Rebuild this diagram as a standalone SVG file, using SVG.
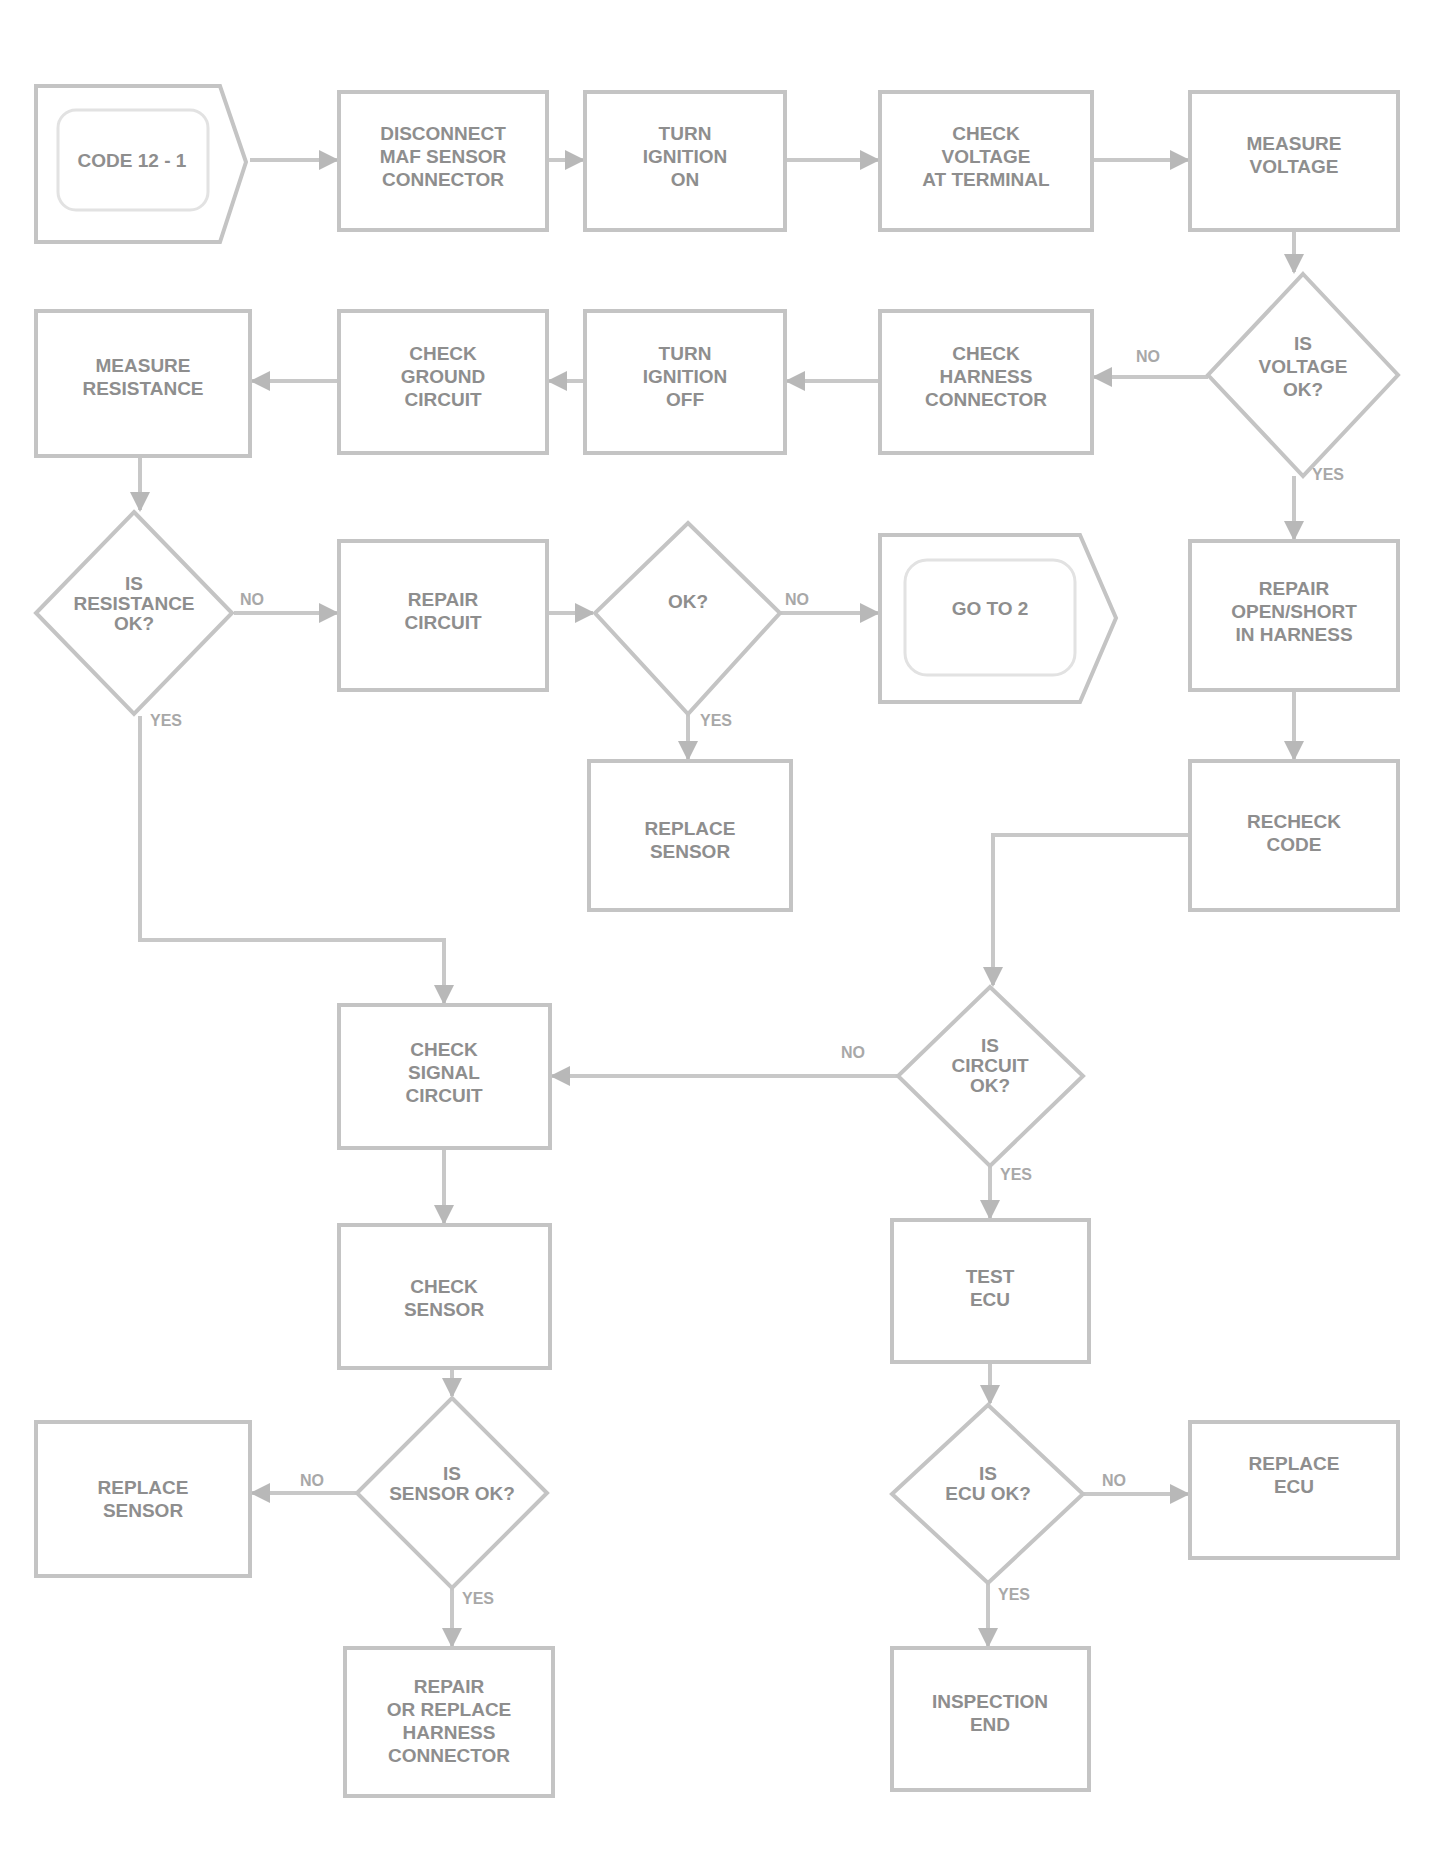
<svg xmlns="http://www.w3.org/2000/svg" width="1437" height="1866" viewBox="0 0 1437 1866">
<defs>
<marker id="ah" viewBox="0 0 10 10" refX="9" refY="5" markerWidth="5" markerHeight="5" orient="auto"><path d="M0,0 L10,5 L0,10 z" fill="#b8b8b8"/></marker>
</defs>
<style>
.box{fill:#fff;stroke:#c4c4c4;stroke-width:4}
.inner{fill:none;stroke:#e2e2e2;stroke-width:3}
.t{font-family:"Liberation Sans",Arial,sans-serif;font-weight:bold;font-size:19px;fill:#8e8e8e;text-anchor:middle}
.lbl{font-family:"Liberation Sans",Arial,sans-serif;font-weight:bold;font-size:16px;fill:#a8a8a8;text-anchor:middle}
.c{fill:none;stroke:#c8c8c8;stroke-width:4;marker-end:url(#ah)}
</style>
<rect width="1437" height="1866" fill="#fff"/>
<g id="connectors">
<path class="c" d="M250,160 H337"/>
<path class="c" d="M547,160 H583"/>
<path class="c" d="M785,160 H878"/>
<path class="c" d="M1092,160 H1188"/>
<path class="c" d="M1294,230 V272"/>
<path class="c" d="M1208,377 H1094"/>
<path class="c" d="M880,381 H787"/>
<path class="c" d="M585,381 H549"/>
<path class="c" d="M339,381 H252"/>
<path class="c" d="M140,456 V510"/>
<path class="c" d="M234,613 H337"/>
<path class="c" d="M547,613 H593"/>
<path class="c" d="M780,613 H878"/>
<path class="c" d="M688,714 V759"/>
<path class="c" d="M1294,476 V539"/>
<path class="c" d="M1294,690 V759"/>
<path class="c" d="M1190,835 H993 V985"/>
<path class="c" d="M140,716 V940 H444 V1003"/>
<path class="c" d="M898,1076 H552"/>
<path class="c" d="M990,1166 V1218"/>
<path class="c" d="M444,1148 V1223"/>
<path class="c" d="M452,1368 V1396"/>
<path class="c" d="M357,1493 H252"/>
<path class="c" d="M452,1588 V1646"/>
<path class="c" d="M990,1362 V1403"/>
<path class="c" d="M1083,1494 H1188"/>
<path class="c" d="M988,1583 V1646"/>
<text class="lbl" x="1148" y="362">NO</text>
<text class="lbl" x="1328" y="480">YES</text>
<text class="lbl" x="252" y="605">NO</text>
<text class="lbl" x="166" y="726">YES</text>
<text class="lbl" x="797" y="605">NO</text>
<text class="lbl" x="716" y="726">YES</text>
<text class="lbl" x="853" y="1058">NO</text>
<text class="lbl" x="1016" y="1180">YES</text>
<text class="lbl" x="312" y="1486">NO</text>
<text class="lbl" x="478" y="1604">YES</text>
<text class="lbl" x="1114" y="1486">NO</text>
<text class="lbl" x="1014" y="1600">YES</text>
</g>
<g id="n1">
<path class="box" d="M36,86 H220 L246,162 L220,242 H36 Z"/>
<rect class="inner" x="58" y="110" width="150" height="100" rx="18"/>
<text class="t" x="132" y="167" font-size="16">CODE 12 - 1</text>
</g>
<g id="n2">
<rect class="box" x="339" y="92" width="208" height="138"/>
<text class="t" x="443" y="140">DISCONNECT</text><text class="t" x="443" y="163">MAF SENSOR</text><text class="t" x="443" y="186">CONNECTOR</text>
</g>
<g id="n3">
<rect class="box" x="585" y="92" width="200" height="138"/>
<text class="t" x="685" y="140">TURN</text><text class="t" x="685" y="163">IGNITION</text><text class="t" x="685" y="186">ON</text>
</g>
<g id="n4">
<rect class="box" x="880" y="92" width="212" height="138"/>
<text class="t" x="986" y="140">CHECK</text><text class="t" x="986" y="163">VOLTAGE</text><text class="t" x="986" y="186">AT TERMINAL</text>
</g>
<g id="n5">
<rect class="box" x="1190" y="92" width="208" height="138"/>
<text class="t" x="1294" y="150">MEASURE</text><text class="t" x="1294" y="173">VOLTAGE</text>
</g>
<g id="d10">
<path class="box" d="M1303,274 L1398,375 L1303,476 L1208,375 Z"/>
<text class="t" x="1303" y="350">IS</text><text class="t" x="1303" y="373">VOLTAGE</text><text class="t" x="1303" y="396">OK?</text>
</g>
<g id="n9">
<rect class="box" x="880" y="311" width="212" height="142"/>
<text class="t" x="986" y="360">CHECK</text><text class="t" x="986" y="383">HARNESS</text><text class="t" x="986" y="406">CONNECTOR</text>
</g>
<g id="n8">
<rect class="box" x="585" y="311" width="200" height="142"/>
<text class="t" x="685" y="360">TURN</text><text class="t" x="685" y="383">IGNITION</text><text class="t" x="685" y="406">OFF</text>
</g>
<g id="n7">
<rect class="box" x="339" y="311" width="208" height="142"/>
<text class="t" x="443" y="360">CHECK</text><text class="t" x="443" y="383">GROUND</text><text class="t" x="443" y="406">CIRCUIT</text>
</g>
<g id="n6">
<rect class="box" x="36" y="311" width="214" height="145"/>
<text class="t" x="143" y="372">MEASURE</text><text class="t" x="143" y="395">RESISTANCE</text>
</g>
<g id="d11">
<path class="box" d="M134,512 L232,613 L134,714 L36,613 Z"/>
<text class="t" x="134" y="590" font-size="15">IS</text><text class="t" x="134" y="610" font-size="15">RESISTANCE</text><text class="t" x="134" y="630" font-size="15">OK?</text>
</g>
<g id="n12">
<rect class="box" x="339" y="541" width="208" height="149"/>
<text class="t" x="443" y="606">REPAIR</text><text class="t" x="443" y="629">CIRCUIT</text>
</g>
<g id="d13">
<path class="box" d="M688,523 L780,613 L688,714 L595,613 Z"/>
<text class="t" x="688" y="608">OK?</text>
</g>
<g id="n14">
<path class="box" d="M880,535 H1080 L1116,618 L1080,702 H880 Z"/>
<rect class="inner" x="905" y="560" width="170" height="115" rx="22"/>
<text class="t" x="990" y="615">GO TO 2</text>
</g>
<g id="n15">
<rect class="box" x="1190" y="541" width="208" height="149"/>
<text class="t" x="1294" y="595">REPAIR</text><text class="t" x="1294" y="618">OPEN/SHORT</text><text class="t" x="1294" y="641">IN HARNESS</text>
</g>
<g id="n16">
<rect class="box" x="589" y="761" width="202" height="149"/>
<text class="t" x="690" y="835">REPLACE</text><text class="t" x="690" y="858">SENSOR</text>
</g>
<g id="n17">
<rect class="box" x="1190" y="761" width="208" height="149"/>
<text class="t" x="1294" y="828">RECHECK</text><text class="t" x="1294" y="851">CODE</text>
</g>
<g id="n18">
<rect class="box" x="339" y="1005" width="211" height="143"/>
<text class="t" x="444" y="1056">CHECK</text><text class="t" x="444" y="1079">SIGNAL</text><text class="t" x="444" y="1102">CIRCUIT</text>
</g>
<g id="d19">
<path class="box" d="M990,987 L1083,1076 L990,1166 L898,1076 Z"/>
<text class="t" x="990" y="1052" font-size="16">IS</text><text class="t" x="990" y="1072" font-size="16">CIRCUIT</text><text class="t" x="990" y="1092" font-size="16">OK?</text>
</g>
<g id="n20">
<rect class="box" x="339" y="1225" width="211" height="143"/>
<text class="t" x="444" y="1293">CHECK</text><text class="t" x="444" y="1316">SENSOR</text>
</g>
<g id="n21">
<rect class="box" x="892" y="1220" width="197" height="142"/>
<text class="t" x="990" y="1283">TEST</text><text class="t" x="990" y="1306">ECU</text>
</g>
<g id="n22">
<rect class="box" x="36" y="1422" width="214" height="154"/>
<text class="t" x="143" y="1494">REPLACE</text><text class="t" x="143" y="1517">SENSOR</text>
</g>
<g id="d23">
<path class="box" d="M452,1398 L547,1493 L452,1588 L357,1493 Z"/>
<text class="t" x="452" y="1480" font-size="16">IS</text><text class="t" x="452" y="1500" font-size="16">SENSOR OK?</text>
</g>
<g id="d24">
<path class="box" d="M988,1405 L1083,1494 L988,1583 L892,1494 Z"/>
<text class="t" x="988" y="1480" font-size="16">IS</text><text class="t" x="988" y="1500" font-size="16">ECU OK?</text>
</g>
<g id="n25">
<rect class="box" x="1190" y="1422" width="208" height="136"/>
<text class="t" x="1294" y="1470">REPLACE</text><text class="t" x="1294" y="1493">ECU</text>
</g>
<g id="n26">
<rect class="box" x="345" y="1648" width="208" height="148"/>
<text class="t" x="449" y="1693">REPAIR</text><text class="t" x="449" y="1716">OR REPLACE</text><text class="t" x="449" y="1739">HARNESS</text><text class="t" x="449" y="1762">CONNECTOR</text>
</g>
<g id="n27">
<rect class="box" x="892" y="1648" width="197" height="142"/>
<text class="t" x="990" y="1708">INSPECTION</text><text class="t" x="990" y="1731">END</text>
</g>
</svg>
